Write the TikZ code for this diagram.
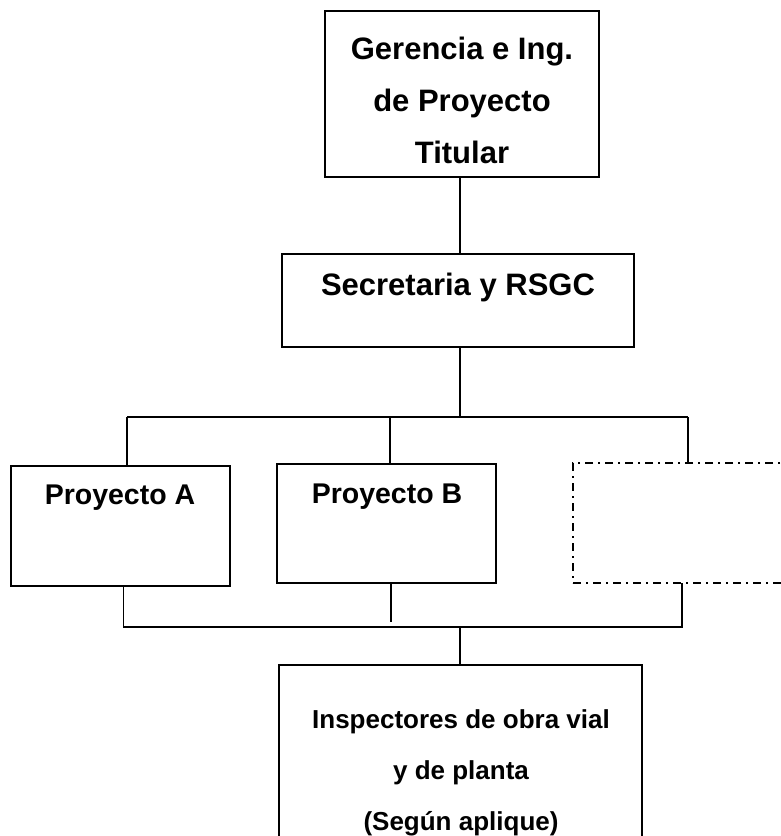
\documentclass[tikz,border=0pt]{standalone}
\usepackage{fontspec}
\setmainfont{Liberation Sans}
\begin{document}
\begin{tikzpicture}[x=1pt,y=-1pt,
  box/.style={draw=black,line width=1.6pt,rectangle,inner sep=0pt,outer sep=0pt},
  dbox/.style={draw=black,line width=1.6pt,rectangle,inner sep=0pt,outer sep=0pt,dash pattern=on 8pt off 5pt on 2pt off 5pt},
  conn/.style={draw=black,line width=1.3pt},
  lbl/.style={font=\bfseries,align=center,inner sep=0pt}]
\useasboundingbox (0,0) rectangle (781,836);
\clip (0,0) rectangle (781,836);
% boxes
\node[box,minimum width=274pt,minimum height=166pt] (top) at (462,94) {};
\node[box,minimum width=352pt,minimum height=93pt] (sec) at (458,300.5) {};
\node[box,minimum width=219pt,minimum height=120pt] (pA) at (120.5,526) {};
\node[box,minimum width=219pt,minimum height=119pt] (pB) at (386.5,523.5) {};
\node[dbox,minimum width=230pt,minimum height=120pt] (pC) at (688,523) {};
\node[box,minimum width=363pt,minimum height=200pt] (insp) at (460.5,765) {};
% texts
\node[lbl,font=\fontsize{31}{52}\bfseries\selectfont] (tTop) at (462,100) {Gerencia e Ing.\\de Proyecto\\Titular};
\node[lbl,font=\fontsize{31}{36}\bfseries\selectfont,anchor=base] (tSec) at (458,295) {Secretaria y RSGC};
\node[lbl,font=\fontsize{28.5}{34}\bfseries\selectfont,anchor=base] (tA) at (120,504) {Proyecto A};
\node[lbl,font=\fontsize{28.5}{34}\bfseries\selectfont,anchor=base] (tB) at (387,503) {Proyecto B};
\node[lbl,font=\fontsize{26}{51}\bfseries\selectfont,anchor=north] (tIn) at (461,709) {Inspectores de obra vial\\y de planta\\(Según aplique)};
% junction coordinates
\coordinate (xc) at (460,0);
\coordinate (xb) at (390,0);
\coordinate (xb2) at (391,0);
\coordinate (hl) at (127,417);
\coordinate (hr) at (688,417);
\coordinate (bl) at (123.5,627);
\coordinate (br) at (682,627);
\coordinate (bgap) at (391,622);
% connectors
\draw[conn] (top.south -| xc) -- (sec.north -| xc);
\draw[conn] (sec.south -| xc) -- (xc |- hl);
\draw[conn] (hl) -- (hr);
\draw[conn] (hl) -- (hl |- pA.north);
\draw[conn] (xb |- hl) -- (xb |- pB.north);
\draw[conn] (hr) -- (hr |- pC.north);
\draw[conn] (pA.south -| bl) -- (bl) -- (br) -- (br |- pC.south);
\draw[conn] (pB.south -| xb2) -- (bgap);
\draw[conn] (xc |- bl) -- (insp.north -| xc);
\end{tikzpicture}
\end{document}
